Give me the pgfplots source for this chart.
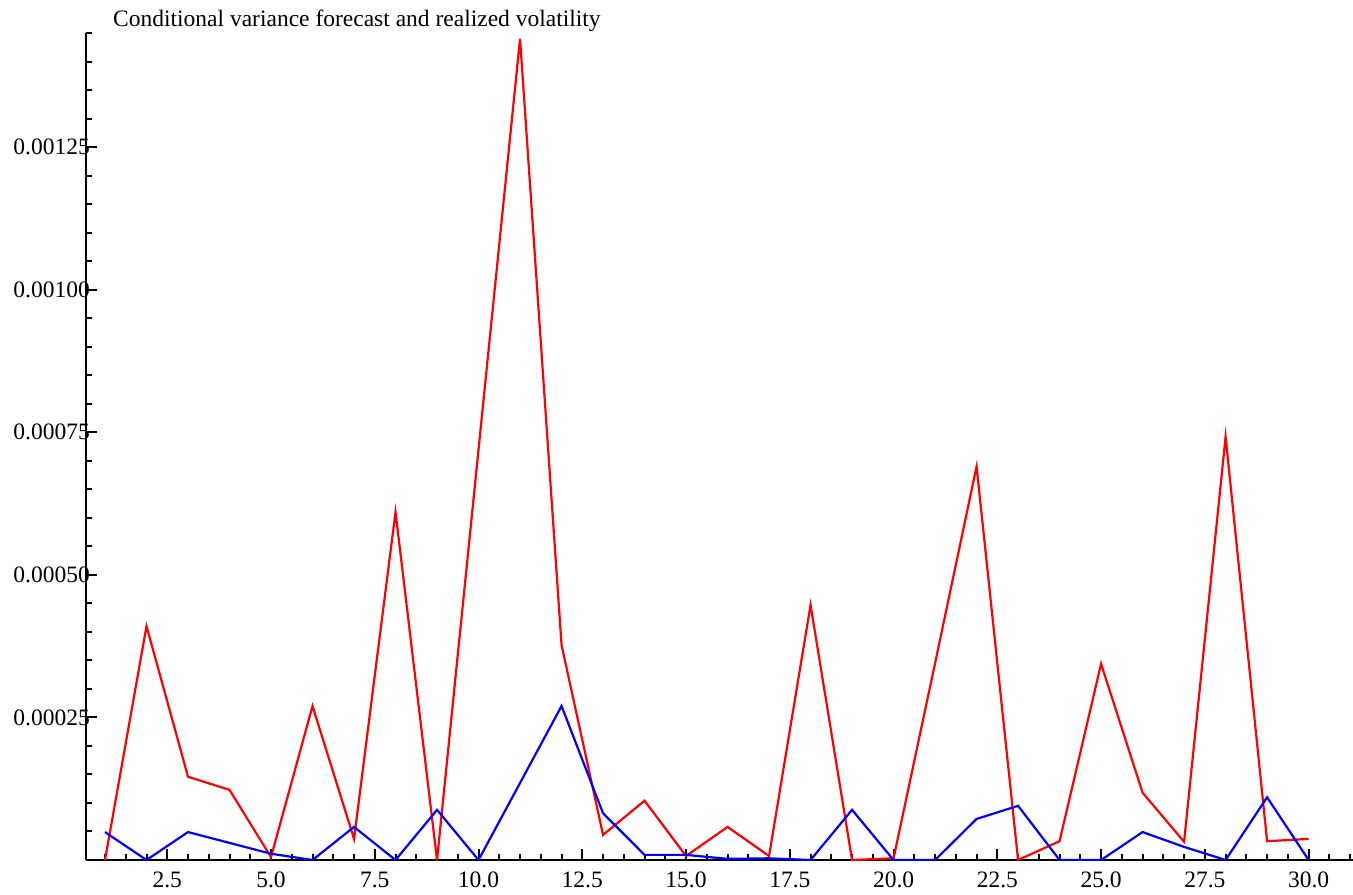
\documentclass[border=0pt]{standalone}
\usepackage{fontspec}
\setmainfont{Liberation Serif}
\usepackage{pgfplots}
\pgfplotsset{compat=1.18}
\begin{document}
\begin{tikzpicture}
\fontsize{23.5}{27}\selectfont
\begin{axis}[
    scale only axis,
    width=1267pt, height=827pt,
    xmin=0.542, xmax=31.07,
    ymin=0, ymax=0.00145,
    axis lines=left,
    axis line style={line width=2.6pt, -},
    tick align=inside,
    major tick length=11pt,
    minor tick length=6pt,
    tick style={line width=2pt, black},
    xtick={2.5,5,7.5,10,12.5,15,17.5,20,22.5,25,27.5,30},
    minor xtick={1,1.5,2,3,3.5,4,4.5,5.5,6,6.5,7,8,8.5,9,9.5,10.5,11,11.5,12,13,13.5,14,14.5,15.5,16,16.5,17,18,18.5,19,19.5,20.5,21,21.5,22,23,23.5,24,24.5,25.5,26,26.5,27,28,28.5,29,29.5,30.5,31},
    ytick={0.00025,0.0005,0.00075,0.001,0.00125},
    minor ytick={0.00005,0.0001,0.00015,0.0002,0.0003,0.00035,0.0004,0.00045,0.00055,0.0006,0.00065,0.0007,0.0008,0.00085,0.0009,0.00095,0.00105,0.0011,0.00115,0.0012,0.0013,0.00135,0.0014,0.00145},
    scaled y ticks=false,
    /pgf/number format/assume math mode=true,
    xticklabel style={yshift=-4pt, /pgf/number format/.cd, fixed, fixed zerofill, precision=1},
    yticklabel style={anchor=east, inner sep=0pt, xshift=4pt,
        /pgf/number format/.cd, fixed, fixed zerofill, precision=5},
    every axis plot/.append style={line width=2.2pt, no markers},
]
% realized volatility
\addplot[color=red] coordinates {
    (1,0) (2,0.00041) (3,0.000146) (4,0.000123) (5,0.000005)
    (6,0.00027) (7,0.000037) (8,0.00061) (9,0) (10,0.00072)
    (11,0.00144) (12,0.000377) (13,0.000044) (14,0.000104) (15,0.000007)
    (16,0.000058) (17,0.000007) (18,0.000447) (19,0) (20,0.000003)
    (21,0.000345) (22,0.00069) (23,0) (24,0.000033) (25,0.000344)
    (26,0.000118) (27,0.000032) (28,0.000742) (29,0.000033) (30,0.000037)
};
% conditional variance forecast
\addplot[color=blue] coordinates {
    (1,0.000049) (2,0) (3,0.000049) (4,0.00003) (5,0.000011)
    (6,0) (7,0.000058) (8,0) (9,0.000088) (10,0)
    (11,0.000135) (12,0.00027) (13,0.000082) (14,0.000009) (15,0.000009)
    (16,0.000002) (17,0.000003) (18,0) (19,0.000088) (20,0)
    (21,0) (22,0.000072) (23,0.000095) (24,0) (25,0)
    (26,0.000049) (27,0.000023) (28,0) (29,0.00011) (30,0)
};
\end{axis}
\node[anchor=base west, inner sep=0pt] at ([shift={(27pt,6pt)}]current axis.north west)
    {Conditional variance forecast and realized volatility};
\pgfresetboundingbox
\path[use as bounding box] ([shift={(-86pt,-34pt)}]current axis.south west)
    rectangle ([shift={(0pt,33pt)}]current axis.north east);
\end{tikzpicture}
\end{document}
